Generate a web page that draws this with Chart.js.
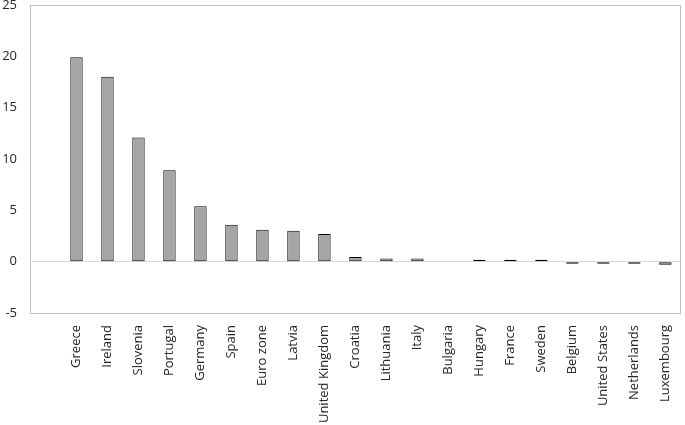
<!DOCTYPE html>
<html>
<head>
<meta charset="utf-8">
<script src="https://cdn.jsdelivr.net/npm/chart.js@4"></script>
<style>
  html, body { margin: 0; padding: 0; background: #fff; }
  #wrap { width: 685px; height: 425px; }
</style>
</head>
<body>
<div id="wrap"><canvas id="myChart" width="685" height="425"></canvas></div>
<script>
const categories = ['Greece', 'Ireland', 'Slovenia', 'Portugal', 'Germany', 'Spain', 'Euro zone', 'Latvia',
  'United Kingdom', 'Croatia', 'Lithuania', 'Italy', 'Bulgaria', 'Hungary', 'France', 'Sweden',
  'Belgium', 'United States', 'Netherlands', 'Luxembourg'];
// Bulgaria: sin barra en el original
const valores = [19.9, 18.0, 12.1, 8.9, 5.4, 3.6, 3.1, 3.0, 2.7, 0.45, 0.3, 0.3, null, 0.1, 0.1, 0.1,
  -0.12, -0.12, -0.12, -0.3];
const yTicks = [-5, 0, 5, 10, 15, 20, 25];

// el gráfico original deja un hueco a la izquierda: una categoría vacía
const labels = [''].concat(categories);
const datos = [null].concat(valores);

// marco gris alrededor del área del gráfico
const marco = {
  id: 'marco',
  afterDraw(chart) {
    const a = chart.chartArea;
    const ctx = chart.ctx;
    ctx.save();
    ctx.strokeStyle = '#bfbfbf';
    ctx.lineWidth = 1;
    ctx.strokeRect(Math.round(a.left) + 0.5, Math.round(a.top) + 0.5,
      Math.round(a.right - a.left) - 1, Math.round(a.bottom - a.top));
    ctx.restore();
  }
};

const ctx = document.getElementById('myChart').getContext('2d');
const myChart = new Chart(ctx, {
  type: 'bar',
  data: {
    labels: labels,
    datasets: [{
      data: datos,
      backgroundColor: '#a5a5a5',
      borderColor: '#000000',
      borderWidth: 1,
      borderSkipped: false,
      barPercentage: 0.4,
      categoryPercentage: 1.0,
      minBarLength: 2
    }]
  },
  options: {
    responsive: false,
    animation: false,
    layout: { padding: { top: 5, right: 1, left: 0, bottom: 0 } },
    plugins: { legend: { display: false }, tooltip: { enabled: false } },
    scales: {
      x: {
        grid: { display: false },
        border: { display: false },
        ticks: {
          minRotation: 90, maxRotation: 90, autoSkip: false,
          color: '#262626', padding: 4,
          font: { family: 'Open Sans', size: 13 }
        },
        afterFit(scale) { scale.height = 112; }
      },
      y: {
        min: -5, max: 25,
        afterBuildTicks(scale) { scale.ticks = yTicks.map(v => ({ value: v })); },
        grid: {
          drawTicks: false,
          color: c => (c.tick && c.tick.value === 0 ? '#d9d9d9' : 'rgba(0,0,0,0)')
        },
        border: { display: false },
        ticks: {
          color: '#262626', padding: 13,
          font: { family: 'Open Sans', size: 13 }
        },
        afterFit(scale) {
          scale.width = 30;
          scale.paddingTop = 0;
          scale.paddingBottom = 0;
        }
      }
    }
  },
  plugins: [marco]
});
</script>
</body>
</html>
